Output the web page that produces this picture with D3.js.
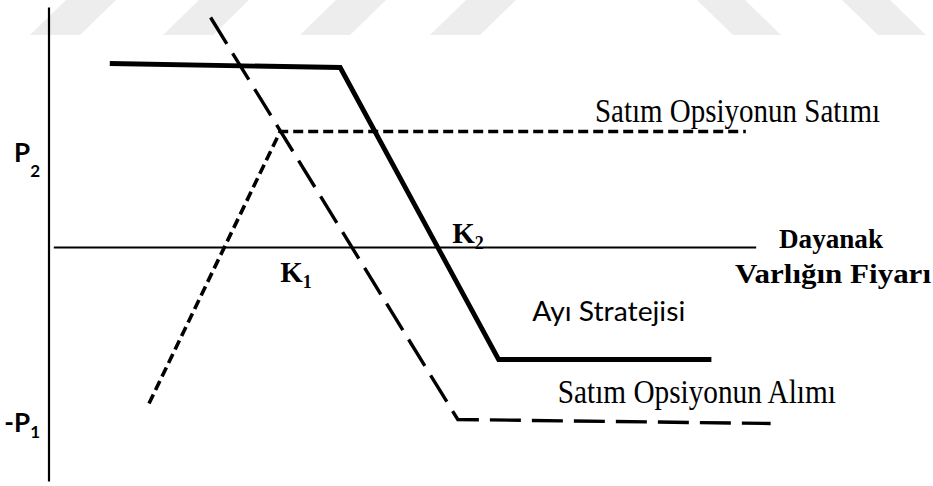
<!DOCTYPE html>
<html>
<head>
<meta charset="utf-8">
<script src="https://cdn.jsdelivr.net/npm/d3@7"></script>
<style>
  html, body { margin: 0; padding: 0; background: #ffffff; }
  #chart { width: 933px; height: 486px; }
</style>
</head>
<body>
<div id="chart"></div>
<script>
// price (x) and payoff (y), abstract units
const bearPrice = [7.6, 36.4, 56.2, 82.8];
const bearPayoff = [92, 90, -56, -56];

const longPutPrice = [20.2, 51.1, 90.2];
const longPutPayoff = [115, -86, -88];

const shortPutPrice = [12.5, 28.9, 87.1];
const shortPutPayoff = [-78, 58, 58];

const seriesNames = ["Ayı  Stratejisi", "Satım Opsiyonun Alımı", "Satım Opsiyonun Satımı"];
const yTickLabels = ["P", "-P"];
const yTickSubs = ["2", "1"];
const yTickValues = [43, -92];
const strikeLabels = ["K", "K"];
const strikeSubs = ["1", "2"];
const xAxisTitle = ["Dayanak", "Varlığın Fiyarı"];

(function() {
  const width = 933;
  const height = 486;

  const svg = d3.select("#chart")
    .append("svg")
    .attr("width", width)
    .attr("height", height)
    .attr("viewBox", `0 0 ${width} ${height}`);

  const x = d3.scaleLinear().domain([0, 100]).range([49, 849]);
  const y = d3.scaleLinear().domain([-100, 100]).range([447.5, 47.5]);

  // faint watermark band at the top
  const wm = svg.append("g").attr("fill", "#ededed");
  [30, 163, 300, 430].forEach(b => {
    wm.append("path").attr("d", `M${b},35 L${b + 50},35 L${b + 86},0 L${b + 36},0 Z`);
  });
  [733, 878].forEach(b => {
    wm.append("path").attr("d", `M${b},35 L${b + 48},35 L${b + 12},0 L${b - 36},0 Z`);
  });

  // axes
  svg.append("line")
    .attr("x1", x(0)).attr("x2", x(0))
    .attr("y1", y(120)).attr("y2", y(-117))
    .attr("stroke", "#000").attr("stroke-width", 2.2);

  svg.append("line")
    .attr("x1", x(0.6)).attr("x2", x(88.4))
    .attr("y1", y(0)).attr("y2", y(0))
    .attr("stroke", "#000").attr("stroke-width", 1.8);

  const line = d3.line().x(d => x(d[0])).y(d => y(d[1]));

  const series = [
    { price: shortPutPrice, payoff: shortPutPayoff, width: 3.6, dash: "10,5" },
    { price: longPutPrice, payoff: longPutPayoff, width: 3.4, dash: "31,11" },
    { price: bearPrice, payoff: bearPayoff, width: 4.8, dash: null }
  ];

  svg.selectAll("path.series")
    .data(series)
    .join("path")
    .attr("class", "series")
    .attr("d", d => line(d3.zip(d.price, d.payoff)))
    .attr("fill", "none")
    .attr("stroke", "#000")
    .attr("stroke-width", d => d.width)
    .attr("stroke-dasharray", d => d.dash)
    .attr("stroke-linejoin", "miter");

  const serif = "'Liberation Serif', 'Times New Roman', serif";
  const sans = "Lato, 'Open Sans', sans-serif";

  // series labels
  const labels = [
    { text: seriesNames[2], px: 68.25, py: 62.7, len: 285, font: serif, size: 33 },
    { text: seriesNames[1], px: 63.6, py: -77.7, len: 278, font: serif, size: 33 },
    { text: seriesNames[0], px: 60.4, py: -36.7, len: 153, font: sans, size: 26 }
  ];
  svg.selectAll("text.serieslabel")
    .data(labels)
    .join("text")
    .attr("class", "serieslabel")
    .attr("x", d => x(d.px))
    .attr("y", d => y(d.py))
    .attr("textLength", d => d.len)
    .attr("lengthAdjust", "spacingAndGlyphs")
    .style("font-family", d => d.font)
    .style("font-size", d => d.size + "px")
    .style("fill", "#000")
    .text(d => d.text);

  // x axis title
  svg.append("text")
    .attr("x", x(97.75)).attr("y", y(-0.25))
    .attr("text-anchor", "middle")
    .attr("textLength", 104).attr("lengthAdjust", "spacingAndGlyphs")
    .style("font-family", serif).style("font-size", "27px").style("font-weight", "bold")
    .text(xAxisTitle[0]);
  svg.append("text")
    .attr("x", x(98)).attr("y", y(-17.75))
    .attr("text-anchor", "middle")
    .attr("textLength", 196).attr("lengthAdjust", "spacingAndGlyphs")
    .style("font-family", serif).style("font-size", "27px").style("font-weight", "bold")
    .text(xAxisTitle[1]);

  // strike labels
  const strikes = [
    { px: 28.9, py: -17.2 },
    { px: 50.4, py: 2.2 }
  ];
  strikes.forEach((s, i) => {
    const t = svg.append("text")
      .attr("x", x(s.px)).attr("y", y(s.py))
      .style("font-family", serif).style("font-size", "29px").style("font-weight", "bold");
    t.append("tspan").text(strikeLabels[i]);
    t.append("tspan").attr("dy", 6).style("font-size", "18px").text(strikeSubs[i]);
  });

  // y tick labels
  yTickValues.forEach((v, i) => {
    const t = svg.append("text")
      .attr("x", x(0) - 9).attr("y", y(v))
      .attr("text-anchor", "end")
      .style("font-family", sans).style("font-size", "26px").style("font-weight", "bold");
    t.append("tspan").text(yTickLabels[i]);
    t.append("tspan").attr("dy", i === 0 ? 15 : 6).style("font-size", "17px").text(yTickSubs[i]);
  });
})();
</script>
</body>
</html>
